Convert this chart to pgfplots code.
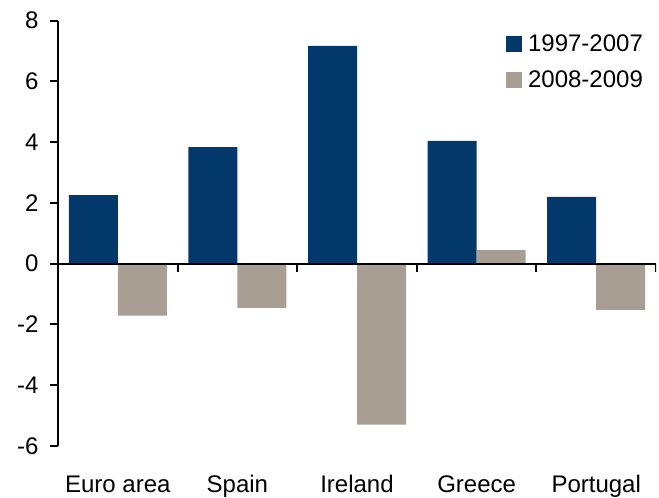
\documentclass[border=0pt]{standalone}
\usepackage{pgfplots}
\pgfplotsset{compat=1.18}
\usepackage{fontspec}
\setmainfont{Liberation Sans}
\definecolor{navy}{RGB}{3,56,106}
\definecolor{taupe}{RGB}{168,158,148}
\pgfplotsset{/pgfplots/ybar legend/.style={/pgfplots/legend image code/.code={\fill[##1,draw=none] (0pt,-8pt) rectangle (16pt,8pt); \path (20pt,0pt);}}}
\begin{document}
\begin{tikzpicture}
\begin{axis}[
 scale only axis, width=598pt, height=425.3pt,
 xmin=-0.5, xmax=4.5, ymin=-6, ymax=8,
 ybar=0pt, bar width=49pt,
 axis y line*=left, axis x line*=bottom,
 x axis line style={draw=none},
 y axis line style={line width=2pt},
 xtick={0,1,2,3,4}, xticklabels={Euro area,Spain,Ireland,Greece,Portugal},
 major x tick style={draw=none},
 ytick={-6,-4,...,8},
 major y tick style={line width=2pt, black},
 tick align=outside, major tick length=8pt,
 /pgf/number format/assume math mode=true,
 tick label style={font=\fontsize{24}{28}\selectfont},
 xticklabel style={yshift=-18pt, text height=17pt, text depth=5pt},
 yticklabel style={xshift=-8pt},
 legend style={at={(0.749,0.972)}, anchor=north west, draw=none, fill=none,
   font=\fontsize{24}{28}\selectfont, row sep=14pt, inner sep=0pt},
 legend cell align=left,
]
\addplot[fill=navy, draw=none] coordinates {(0,2.26) (1,3.84) (2,7.17) (3,4.04) (4,2.20)};
\addplot[fill=taupe, draw=none] coordinates {(0,-1.71) (1,-1.45) (2,-5.30) (3,0.45) (4,-1.52)};
\legend{1997-2007,2008-2009}
\draw[line width=2pt] (axis cs:-0.5,0) -- (axis cs:4.5,0);
\draw[line width=2pt] (axis cs:0.5,0) -- ++(0pt,-8pt);
\draw[line width=2pt] (axis cs:1.5,0) -- ++(0pt,-8pt);
\draw[line width=2pt] (axis cs:2.5,0) -- ++(0pt,-8pt);
\draw[line width=2pt] (axis cs:3.5,0) -- ++(0pt,-8pt);
\draw[line width=2pt] (axis cs:4.5,0) -- ++(0pt,-8pt);
\end{axis}
\pgfresetboundingbox
\path ([shift={(-58pt,-52pt)}]current axis.south west) rectangle ([shift={(3pt,20.7pt)}]current axis.north east);
\end{tikzpicture}
\end{document}
